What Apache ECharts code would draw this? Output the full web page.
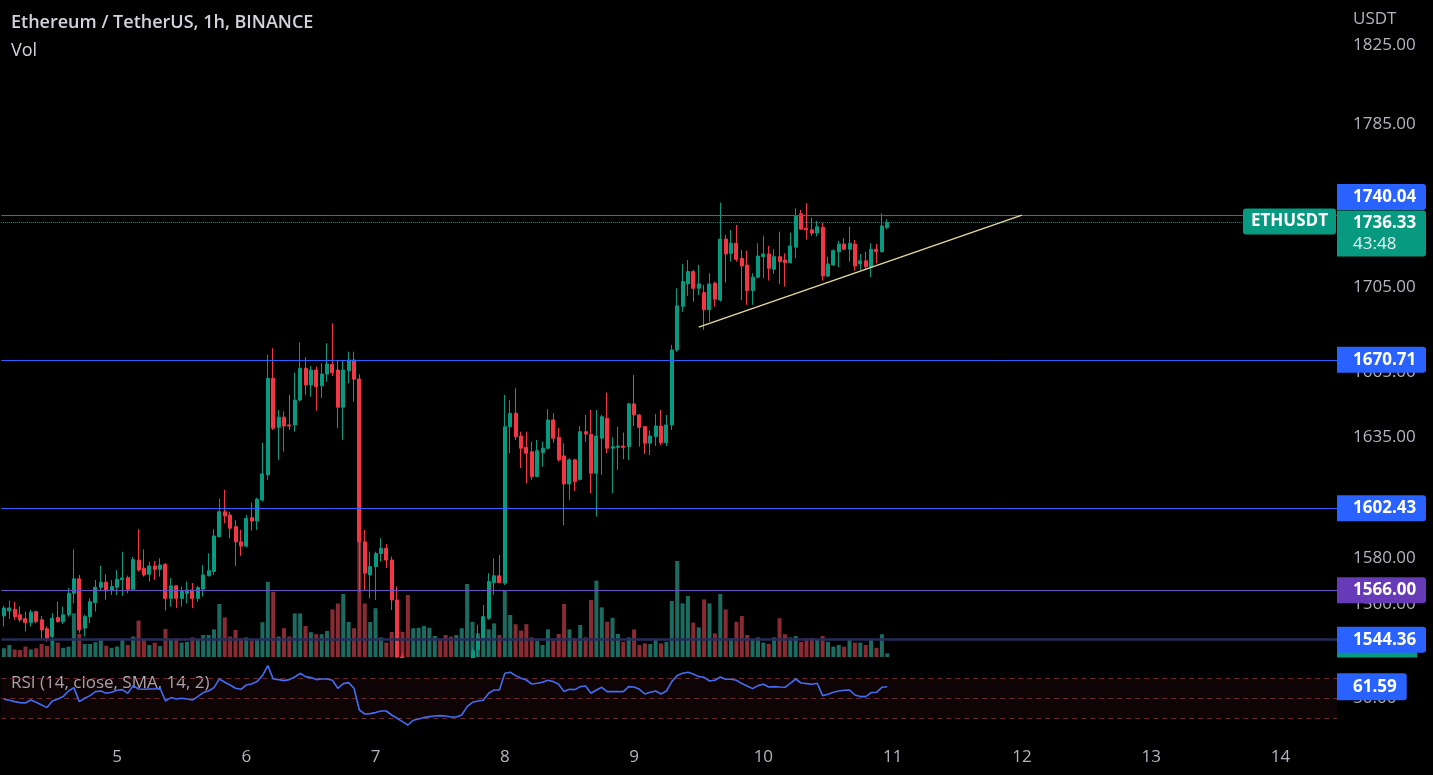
<!DOCTYPE html>
<html>
<head>
<meta charset="utf-8">
<script src="https://cdn.jsdelivr.net/npm/echarts@6/dist/echarts.min.js"></script>
<style>html,body{margin:0;padding:0;background:#000;}#c{width:1433px;height:775px;}</style>
</head>
<body>
<div id="c"></div>
<script>
// ---------- data ----------
const startDay = 4, startHour = 3, slotCount = 248; // hourly slots, incl. empty future space
const categories = [];
for (let i = 0; i < slotCount; i++) {
  const t = startHour + i;
  categories.push((startDay + Math.floor(t / 24)) + ' ' + String(t % 24).padStart(2, '0') + ':00');
}

const open = [
1554.7,1556.9,1557.6,1555.2,1553.5,1551.8,1556.6,1553.0,1549.1,1545.7,
1554.0,1552.2,1555.2,1564.6,1571.0,1549.4,1554.4,1560.5,1567.3,1569.5,
1565.8,1567.3,1570.6,1571.5,1566.4,1579.3,1575.7,1573.0,1576.7,1575.2,
1577.4,1562.4,1567.9,1562.4,1564.6,1566.1,1562.4,1566.5,1572.4,1574.2,
1589.7,1600.9,1599.4,1594.2,1587.4,1585.5,1598.2,1596.7,1606.2,1617.6,
1662.0,1639.3,1644.0,1640.4,1640.4,1651.9,1666.7,1658.9,1665.9,1658.5,
1664.0,1668.6,1665.9,1648.6,1665.6,1670.6,1661.7,1587.4,1572.7,1576.4,
1582.2,1584.5,1579.3,1561.7,1536.9,1526.0,1518.0,1521.0,1523.0,1525.0,
1526.5,1527.5,1527.0,1526.5,1525.5,1526.0,1528.0,1535.0,1539.9,1545.2,
1553.7,1569.3,1572.3,1569.1,1639.6,1645.8,1635.3,1630.1,1628.1,1616.8,
1627.7,1629.7,1642.7,1634.7,1626.2,1613.4,1624.4,1615.5,1637.3,1636.0,
1618.3,1634.3,1643.5,1629.7,1630.1,1630.7,1630.4,1650.1,1645.0,1639.6,
1632.0,1635.0,1639.9,1632.2,1640.4,1675.3,1696.0,1706.7,1712.6,1704.6,
1702.5,1694.3,1707.0,1699.0,1728.3,1721.4,1726.3,1719.0,1715.8,1703.5,
1709.9,1719.8,1721.1,1713.7,1719.8,1718.2,1716.9,1724.4,1740.6,1733.6,
1732.8,1731.3,1734.0,1710.5,1715.8,1722.2,1725.9,1723.4,1725.9,1716.3,
1717.8,1714.7,1723.4,1722.2,1734.0
];
const close = [
1558.2,1558.2,1554.4,1553.0,1551.8,1556.3,1552.2,1548.6,1545.0,1553.7,
1552.2,1555.2,1564.6,1571.0,1548.6,1554.4,1560.9,1567.3,1569.5,1565.7,
1567.6,1570.8,1571.4,1566.4,1579.5,1574.9,1572.7,1576.7,1575.2,1577.1,
1562.4,1567.9,1562.4,1565.4,1566.1,1562.4,1567.1,1572.7,1574.6,1590.0,
1600.9,1599.0,1593.5,1587.4,1585.5,1597.9,1596.7,1606.5,1618.0,1662.0,
1638.9,1644.0,1639.9,1639.9,1651.9,1666.7,1658.9,1665.9,1658.1,1664.0,
1668.7,1664.6,1648.6,1665.9,1670.6,1661.6,1587.4,1573.5,1576.4,1582.2,
1584.5,1579.3,1561.7,1536.9,1526.0,1518.0,1521.0,1523.0,1525.0,1526.5,
1527.5,1527.0,1526.5,1525.5,1526.0,1528.0,1535.0,1539.5,1545.2,1554.4,
1569.8,1572.3,1569.3,1639.6,1645.8,1635.0,1629.7,1627.4,1616.8,1628.6,
1629.7,1642.7,1634.3,1624.4,1613.4,1624.4,1614.5,1637.3,1636.2,1618.3,
1635.3,1644.2,1629.7,1630.4,1630.7,1630.1,1650.1,1645.0,1639.3,1632.0,
1635.3,1639.9,1632.2,1640.4,1675.3,1696.2,1707.8,1712.6,1704.6,1706.7,
1694.3,1706.7,1699.4,1728.3,1721.1,1726.3,1718.5,1715.3,1703.5,1709.9,
1720.1,1721.1,1714.2,1719.8,1717.4,1716.9,1725.0,1739.6,1733.2,1732.8,
1731.2,1734.3,1710.5,1716.3,1722.7,1725.9,1723.4,1726.3,1715.3,1717.8,
1715.0,1723.4,1722.2,1734.7,1736.33
];
const low = [
1550.1,1553.4,1553.0,1552.1,1547.9,1550.1,1551.5,1544.3,1543.5,1541.4,
1551.8,1551.2,1554.4,1560.2,1547.2,1545.7,1551.5,1556.6,1566.1,1561.7,
1563.9,1563.9,1563.5,1564.6,1566.1,1574.2,1572.0,1569.8,1570.5,1572.0,
1557.0,1558.8,1558.1,1558.8,1560.2,1558.1,1560.9,1563.2,1572.0,1572.7,
1589.4,1595.7,1589.0,1576.7,1581.2,1584.8,1592.4,1592.7,1605.4,1615.3,
1638.1,1624.4,1628.1,1638.1,1637.3,1651.2,1654.3,1653.5,1647.0,1652.8,
1660.4,1663.1,1638.9,1633.5,1659.7,1651.2,1565.2,1566.1,1562.4,1561.7,
1578.6,1575.7,1557.3,1531.0,1520.0,1512.0,1515.0,1517.0,1520.0,1522.0,
1523.0,1524.0,1523.5,1522.5,1523.0,1524.0,1527.0,1533.0,1536.9,1543.5,
1553.0,1563.9,1569.1,1568.3,1627.4,1633.5,1620.6,1613.7,1615.3,1616.4,
1621.3,1629.2,1632.2,1623.6,1594.9,1606.2,1610.3,1615.0,1632.7,1609.2,
1598.7,1617.6,1627.4,1609.2,1619.8,1624.7,1624.4,1639.9,1630.4,1627.1,
1626.6,1630.7,1631.2,1630.7,1638.1,1674.4,1693.3,1701.0,1698.2,1701.4,
1684.8,1688.7,1695.8,1698.2,1707.3,1717.4,1717.4,1699.0,1696.7,1696.7,
1709.4,1709.4,1708.3,1711.5,1706.7,1705.4,1716.6,1719.0,1732.8,1728.0,
1729.9,1729.6,1708.3,1709.9,1715.3,1714.7,1723.0,1717.4,1713.1,1713.4,
1713.4,1709.9,1716.6,1721.7,1733.1
];
const high = [
1559.1,1561.4,1560.9,1558.8,1556.6,1557.3,1556.9,1554.7,1550.1,1555.9,
1560.9,1558.8,1566.9,1584.0,1572.7,1555.2,1562.4,1570.5,1576.7,1573.0,
1570.5,1574.9,1583.0,1572.4,1580.7,1593.0,1584.0,1578.6,1578.9,1580.1,
1577.9,1571.3,1568.3,1567.6,1569.8,1569.1,1567.9,1577.1,1582.3,1593.0,
1606.9,1610.7,1600.9,1597.2,1592.7,1599.4,1605.0,1607.2,1632.2,1673.0,
1676.1,1647.3,1646.6,1654.3,1664.6,1678.8,1671.9,1667.8,1667.5,1669.1,
1678.5,1687.9,1670.6,1670.6,1674.5,1674.5,1663.9,1592.7,1583.0,1583.0,
1589.0,1586.4,1580.8,1567.6,1538.5,1530.0,1525.0,1527.0,1528.0,1530.0,
1531.0,1531.0,1530.5,1529.5,1529.0,1531.0,1536.5,1540.5,1550.8,1559.5,
1573.5,1580.0,1581.5,1654.3,1651.9,1657.4,1637.3,1637.3,1632.7,1633.5,
1632.7,1647.7,1645.8,1638.9,1632.0,1625.1,1624.9,1639.9,1645.0,1647.3,
1647.3,1645.0,1655.4,1634.7,1639.6,1636.9,1650.7,1663.6,1645.4,1639.9,
1637.8,1645.5,1647.3,1645.0,1677.7,1704.6,1716.3,1718.2,1713.4,1715.8,
1706.2,1711.8,1707.8,1746.1,1730.4,1732.8,1735.2,1723.0,1722.7,1711.8,
1726.3,1729.9,1725.0,1723.4,1731.9,1721.4,1731.5,1743.3,1742.5,1745.8,
1738.7,1737.2,1736.2,1719.8,1723.4,1727.5,1728.7,1734.4,1727.9,1721.1,
1722.2,1726.3,1725.9,1740.9,1738.0
];
// volume, thousand ETH
const volume = [
2.2,3.0,1.9,1.75,2.6,1.9,2.2,3.25,2.75,4.25,
3.6,2.3,2.6,10.9,5.75,3.25,3.25,3.7,4.5,2.8,
2.3,2.6,4.4,3.0,5.1,9.1,4.25,3.0,3.6,2.75,
7.0,4.25,4.7,3.6,3.8,4.9,4.25,5.5,5.5,6.9,
13.25,9.9,5.1,6.75,4.7,4.9,4.1,4.4,8.7,18.8,
16.3,5.1,7.2,5.1,10.9,10.9,7.75,6.2,5.7,5.7,
6.5,11.9,13.4,15.75,8.75,7.2,40.9,13.4,8.75,12.2,
4.9,3.6,6.25,10.5,6.3,15.5,7.2,7.3,7.75,7.3,
5.25,4.4,5.5,5.1,5.5,7.2,18.25,8.8,5.9,8.4,
6.9,8.4,5.5,16.75,10.5,8.2,6.6,8.2,4.9,4.1,
3.0,6.9,4.1,5.75,13.25,6.9,4.7,8.0,4.9,14.25,
19.1,12.4,8.8,9.8,5.75,3.8,4.9,6.9,3.0,3.4,
3.25,4.25,3.4,3.8,14.0,24.0,13.4,15.25,8.6,7.4,
14.4,13.4,5.9,15.75,11.9,4.7,8.8,10.25,5.5,4.25,
4.9,3.6,3.25,4.9,9.7,5.7,4.9,5.25,3.8,4.7,
4.7,4.25,5.25,3.8,2.6,3.0,2.6,4.25,3.6,3.6,
3.0,4.25,2.3,5.7,0.9
];
const rsi = [
49,48,46.7,45.7,45.3,48.3,46,43.3,40.7,47.3,
49.3,51.7,57.3,60.7,46.7,50,52.7,56.7,57.3,55,
56,58,58.7,55,62.7,59.3,59,59.3,59.3,60,
47.3,50.7,49.3,50,49.3,48.3,51.7,55.7,57.3,60.7,
69.3,66,63.3,60,59,63.3,64.3,66.7,72.7,82.7,
69.3,68.7,67.7,68.7,71.3,75,71.7,70.7,68.7,69.3,
69.3,68,60,64.7,65.7,60,38.3,34.3,34.7,35.7,
37.3,37.3,33.3,30,26.7,23.3,28,29.3,30.7,31.7,
32.3,32.7,32.3,31.3,31.3,33.3,41.7,46,47.3,48,
55,58.3,58.3,75,76,72.7,70,68.3,64.3,65,
66,68,66.7,64,56.7,59,58.7,61.7,62.3,55,
58.3,61,56.7,56.7,56.7,56.7,61.7,61.3,59,54.3,
56,57.3,54.3,57.3,66.7,72.7,75,76,74.3,71.7,
71,67.3,68,71.3,69,69,68,64.7,62.3,59.7,
62.7,64,61.3,61.7,61.3,61,65,69.3,65.3,64.7,
64,65,52.7,54,56,57.3,58,58.3,53.3,51.7,
51.7,55.7,56,61,61.59
];
const priceTicks = [1560, 1580, 1600, 1635, 1665, 1705, 1745, 1785, 1825];
const rsiTicks = [50];
const rsiLevels = [70, 50, 30];
const levelPrices = [1740.04, 1670.71, 1602.43, 1566.00, 1544.36];
const lastPrice = 1736.33;
const countdown = '43:48';
const symbolName = 'ETHUSDT';
const trendline = [[129, 1686.1], [189, 1740.0]]; // [slot index, price]

// ---------- chart ----------
const FONT = '"Open Sans", "Noto Sans", sans-serif';
const UP = '#089981', DOWN = '#f23645', BLUE = '#2962ff', PURPLE = '#673ab7';
const AXIS_TXT = '#b2b5be';
const NO_LINE = { color: 'rgba(0,0,0,0)', width: 1, type: 'solid' };

function tag(bg, extra) {
  return Object.assign({
    show: true, position: 'end', distance: 0,
    formatter: p => Number(p.value).toFixed(2),
    backgroundColor: bg, color: '#fff', fontFamily: FONT, fontSize: 17, fontWeight: 'bold',
    lineHeight: 20, padding: [3, 10, 3, 16], width: 63, borderRadius: [0, 3, 3, 0], opacity: 1
  }, extra || {});
}

const candleData = open.map((o, i) => [o, close[i], low[i], high[i]]);
const volData = volume.map((v, i) => ({
  value: v,
  itemStyle: { color: close[i] >= open[i] ? '#1b6b60' : '#8a2b33' }
}));

const chart = echarts.init(document.getElementById('c'), null, { renderer: 'canvas' });
const option = {
  backgroundColor: '#000',
  animation: false,
  textStyle: { fontFamily: FONT },
  title: [
    { text: 'Ethereum / TetherUS, 1h, BINANCE', left: 11, top: 14, padding: 0,
      textStyle: { color: '#d1d4dc', fontSize: 18, fontWeight: 600, fontFamily: FONT } },
    { text: 'Vol', left: 11, top: 42, padding: 0,
      textStyle: { color: '#d1d4dc', fontSize: 18, fontWeight: 'normal', fontFamily: FONT } },
    { text: 'RSI (14, close, SMA, 14, 2)', left: 11, top: 675, padding: 0,
      textStyle: { color: 'rgba(209,212,220,0.85)', fontSize: 17, fontWeight: 'normal', fontFamily: FONT } },
    { text: 'USDT', left: 1353, top: 11, padding: 0,
      textStyle: { color: AXIS_TXT, fontSize: 17, fontWeight: 'normal', fontFamily: FONT } }
  ],
  // black mask below the price pane so partially hidden candles are cut at the pane edge
  graphic: [
    { type: 'rect', silent: true, z: 4, shape: { x: 0, y: 658, width: 1433, height: 117 }, style: { fill: '#000' } }
  ],
  grid: [
    { left: 1.2, right: 96, top: 0, height: 660 },
    { left: 1.2, right: 96, top: 457, height: 200 },
    { left: 1.2, right: 96, top: 663.3, height: 80 }
  ],
  xAxis: [
    { type: 'category', gridIndex: 0, data: categories, show: false },
    { type: 'category', gridIndex: 1, data: categories, show: false },
    { type: 'category', gridIndex: 2, data: categories, z: 10,
      axisLine: { show: false }, axisTick: { show: false }, splitLine: { show: false },
      axisLabel: { interval: (i, v) => v.endsWith(' 00:00'), formatter: v => v.split(' ')[0],
        color: AXIS_TXT, fontSize: 17, margin: 5, fontFamily: FONT } }
  ],
  yAxis: [
    { type: 'log', gridIndex: 0, position: 'right', min: 1535.58, max: 1848.37,
      axisLine: { show: false }, axisTick: { show: false }, splitLine: { show: false },
      axisLabel: { customValues: priceTicks, formatter: v => Number(v).toFixed(2),
        color: AXIS_TXT, fontSize: 17, margin: 16, fontFamily: FONT } },
    { type: 'value', gridIndex: 1, min: 0, max: 50, show: false },
    { type: 'value', gridIndex: 2, min: 5, max: 85, position: 'right', z: 10,
      axisLine: { show: false }, axisTick: { show: false }, splitLine: { show: false },
      axisLabel: { customValues: rsiTicks, formatter: v => Number(v).toFixed(2),
        color: AXIS_TXT, fontSize: 17, margin: 16, fontFamily: FONT } }
  ],
  series: [
    {
      name: 'Vol', type: 'bar', xAxisIndex: 1, yAxisIndex: 1, data: volData,
      barWidth: 4, z: 1,
      markLine: {
        symbol: 'none', silent: true,
        data: [{ yAxis: volume[volume.length - 1], lineStyle: NO_LINE,
          label: { show: true, position: 'end', distance: 0, opacity: 1,
            formatter: p => Number(p.value).toFixed(2) + 'K',
            color: UP, fontSize: 6, fontFamily: FONT, lineHeight: 8,
            padding: [0, 8, 0, 8], width: 64, backgroundColor: UP } }]
      }
    },
    {
      name: symbolName, type: 'candlestick', xAxisIndex: 0, yAxisIndex: 0, data: candleData,
      barWidth: 3.5, z: 3, clip: true,
      itemStyle: { color: UP, color0: DOWN, borderColor: UP, borderColor0: DOWN, borderWidth: 1 },
      markLine: {
        symbol: 'none', silent: true, animation: false,
        label: { show: false },
        data: [
          { yAxis: levelPrices[0], lineStyle: { color: BLUE, width: 1, type: 'solid' },
            label: tag(BLUE, { offset: [0, -18] }) },
          { yAxis: lastPrice, lineStyle: { color: UP, width: 1, type: 'dotted' },
            label: { show: true, position: 'end', distance: 0, offset: [0, 11], opacity: 1,
              formatter: '{p|' + lastPrice.toFixed(2) + '}\n{t|' + countdown + '}',
              backgroundColor: UP, padding: [2, 10, 2, 16], width: 63, borderRadius: [0, 3, 3, 0],
              rich: {
                p: { color: '#fff', fontSize: 17, fontWeight: 'bold', lineHeight: 21, fontFamily: FONT },
                t: { color: 'rgba(255,255,255,0.88)', fontSize: 17, lineHeight: 21, fontFamily: FONT }
              } } },
          { yAxis: lastPrice, lineStyle: NO_LINE,
            label: { show: true, position: 'insideEndTop', distance: 1, offset: [0, 13], formatter: symbolName,
              backgroundColor: UP, color: '#fff', fontSize: 17, fontWeight: 'bold', fontFamily: FONT, opacity: 1,
              lineHeight: 20, padding: [3, 8, 3, 8], borderRadius: 3 } },
          { yAxis: levelPrices[1], lineStyle: { color: BLUE, width: 1, type: 'solid' }, label: tag(BLUE) },
          { yAxis: levelPrices[2], lineStyle: { color: BLUE, width: 1, type: 'solid' }, label: tag(BLUE) },
          { yAxis: levelPrices[3], lineStyle: { color: '#6a4fc4', width: 1, type: 'solid' }, label: tag(PURPLE) },
          { yAxis: levelPrices[4], lineStyle: { color: '#262b58', width: 2.5, type: 'solid' }, label: tag(BLUE) },
          [
            { coord: trendline[0], lineStyle: { color: '#e9dc9c', width: 1.2, type: 'solid' }, label: { show: false } },
            { coord: trendline[1] }
          ]
        ]
      }
    },
    {
      name: 'RSI', type: 'line', xAxisIndex: 2, yAxisIndex: 2, data: rsi,
      showSymbol: false, symbol: 'none', z: 12,
      lineStyle: { color: '#446cf2', width: 1.6 },
      markArea: { silent: true, z: 11, itemStyle: { color: 'rgba(110,30,40,0.13)' },
        data: [[{ yAxis: rsiLevels[2] }, { yAxis: rsiLevels[0] }]] },
      markLine: {
        symbol: 'none', silent: true, label: { show: false }, z: 11,
        lineStyle: { color: '#6b2a30', type: [5, 4], width: 1 },
        data: [
          { yAxis: rsiLevels[0] }, { yAxis: rsiLevels[1] }, { yAxis: rsiLevels[2] },
          { yAxis: rsi[rsi.length - 1], lineStyle: NO_LINE,
            label: { show: true, position: 'end', distance: 0, opacity: 1,
              formatter: p => Number(p.value).toFixed(2),
              backgroundColor: BLUE, color: '#fff', fontSize: 17, fontWeight: 'bold', fontFamily: FONT,
              lineHeight: 21, padding: [3, 10, 3, 16], borderRadius: [0, 3, 3, 0] } }
        ]
      }
    }
  ]
};
chart.setOption(option);
</script>
</body>
</html>
